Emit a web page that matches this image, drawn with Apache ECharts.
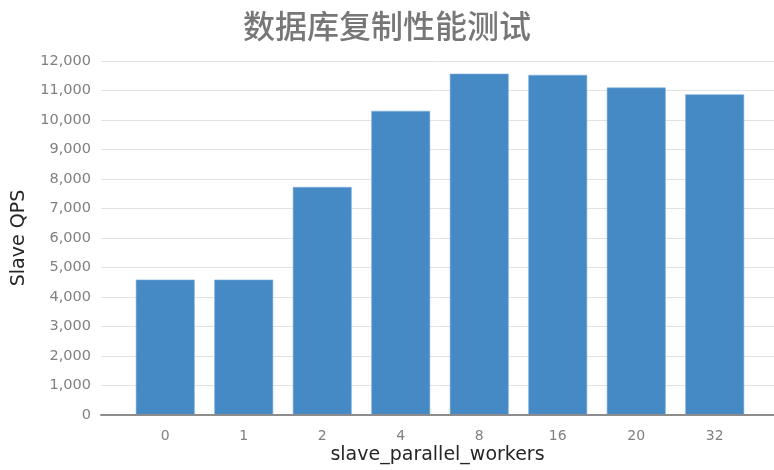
<!DOCTYPE html>
<html>
<head>
<meta charset="utf-8">
<script src="https://cdn.jsdelivr.net/npm/echarts@6/dist/echarts.min.js"></script>
<style>
  html, body { margin: 0; padding: 0; background: #fff; }
  #chart { width: 774px; height: 470px; }
</style>
</head>
<body>
<div id="chart"></div>
<script>
// Replication throughput by number of parallel slave workers
const titleText = '数据库复制性能测试';
const workers = ['0', '1', '2', '4', '8', '16', '20', '32'];
const slaveQps = [4590, 4590, 7730, 10310, 11570, 11530, 11100, 10870];
const yMin = 0;
const yMax = 12000;
const yStep = 1000;

const chart = echarts.init(document.getElementById('chart'), null, { renderer: 'canvas' });

const gridTop = 61;
const gridBottom = 55;

chart.setOption({
  animation: false,
  backgroundColor: '#ffffff',
  title: {
    text: titleText,
    left: 'center',
    top: 5,
    textStyle: {
      fontFamily: 'Noto Sans CJK SC',
      fontSize: 32,
      fontWeight: 500,
      color: '#777777'
    }
  },
  grid: [
    // full-width grid carrying the value axis and horizontal gridlines
    { left: 101, right: 0, top: gridTop, bottom: gridBottom, containLabel: false, outerBoundsMode: 'none' },
    // inset grid holding the bars
    { left: 126, right: 20, top: gridTop, bottom: gridBottom, containLabel: false, outerBoundsMode: 'none' }
  ],
  xAxis: [
    {
      gridIndex: 0,
      type: 'category',
      data: workers,
      show: true,
      axisLabel: { show: false },
      axisTick: { show: false },
      axisLine: { show: true, lineStyle: { color: '#8c8c8c', width: 2 } },
      name: 'slave_parallel_workers',
      nameLocation: 'middle',
      nameGap: 31,
      nameTextStyle: { fontFamily: 'DejaVu Sans', fontSize: 19, color: '#262626' },
      z: 5
    },
    {
      gridIndex: 1,
      type: 'category',
      data: workers,
      axisLine: { show: false },
      axisTick: { show: false },
      axisLabel: {
        fontFamily: 'DejaVu Sans',
        fontSize: 14,
        color: '#808080',
        margin: 14
      }
    }
  ],
  yAxis: [
    {
      gridIndex: 0,
      type: 'value',
      min: yMin,
      max: yMax,
      interval: yStep,
      name: 'Slave QPS',
      nameLocation: 'middle',
      nameGap: 72,
      nameTextStyle: { fontFamily: 'DejaVu Sans', fontSize: 19, color: '#262626' },
      axisLine: { show: false },
      axisTick: { show: false },
      axisLabel: {
        fontFamily: 'DejaVu Sans',
        fontSize: 14.5,
        color: '#808080',
        margin: 10,
        formatter: v => v.toLocaleString('en-US')
      },
      splitLine: { show: true, lineStyle: { color: '#e2e2e2', width: 1 } }
    },
    {
      gridIndex: 1,
      type: 'value',
      min: yMin,
      max: yMax,
      interval: yStep,
      show: false,
      splitLine: { show: false }
    }
  ],
  series: [
    {
      type: 'bar',
      xAxisIndex: 1,
      yAxisIndex: 1,
      data: slaveQps,
      barCategoryGap: '25%',
      itemStyle: {
        color: '#4589c5',
        borderColor: '#7fb2e0',
        borderWidth: 0.6
      }
    }
  ]
});
</script>
</body>
</html>
